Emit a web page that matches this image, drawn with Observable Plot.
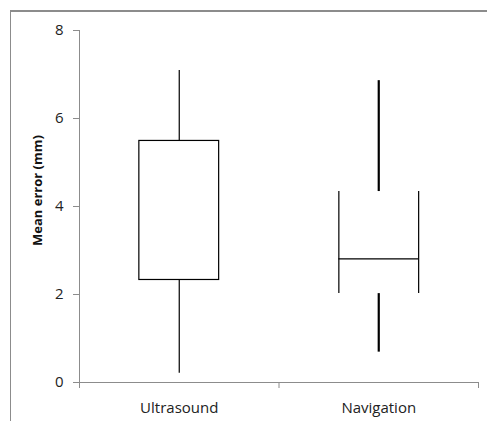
<!DOCTYPE html>
<html>
<head>
<meta charset="utf-8">
<script src="https://cdn.jsdelivr.net/npm/d3@7"></script>
<script src="https://cdn.jsdelivr.net/npm/@observablehq/plot@0.6"></script>
<style>
  html, body { margin: 0; padding: 0; background: #fff; }
  #wrap { position: relative; width: 487px; height: 421px; overflow: hidden; }
  #frame { position: absolute; left: 10px; top: 10px; width: 600px; height: 600px;
           border-top: 2px solid #8c8c8c; border-left: 1px solid #8c8c8c; }
  svg { position: absolute; left: 0; top: 0; }
</style>
</head>
<body>
<div id="wrap"><div id="frame"></div></div>
<script>
const categories = ["Ultrasound", "Navigation"];
const whiskerLow  = [0.21, 0.69];
const q1          = [2.33, 2.02];
const median      = [2.33, 2.81];
const q3          = [5.49, 4.34];
const whiskerHigh = [7.09, 6.86];
const yTicks = [0, 2, 4, 6, 8];
const yLabel = "Mean error (mm)";

const data = categories.map((c, i) => ({
  cat: c, pos: i + 0.5,
  lo: whiskerLow[i], q1: q1[i], med: median[i], q3: q3[i], hi: whiskerHigh[i]
}));
const us = data.filter(d => d.cat === "Ultrasound");
const nav = data.filter(d => d.cat === "Navigation");
const half = 0.2;
const font = "'Open Sans', sans-serif";

const chart = Plot.plot({
  width: 487, height: 421,
  marginLeft: 79, marginRight: 9, marginTop: 30, marginBottom: 39,
  style: { fontFamily: font, background: "transparent", overflow: "visible" },
  x: { domain: [0, categories.length], axis: null },
  y: { domain: [0, 8], axis: null },
  marks: [
    Plot.frame({ anchor: "left", stroke: "#8c8c8c" }),
    Plot.frame({ anchor: "bottom", stroke: "#8c8c8c" }),
    Plot.axisY({ ticks: yTicks, tickSize: 6, tickPadding: 10, stroke: "#8c8c8c",
                 fontSize: 15, fill: "#222", label: null }),
    Plot.axisX({ ticks: d3.range(categories.length + 1), tickSize: 6, tickFormat: () => "",
                 stroke: "#8c8c8c", label: null }),
    // Ultrasound
    Plot.ruleX(us, { x: "pos", y1: "lo", y2: "q1", stroke: "#000", strokeWidth: 1.2 }),
    Plot.ruleX(us, { x: "pos", y1: "q3", y2: "hi", stroke: "#000", strokeWidth: 1.2 }),
    Plot.rect(us, { x1: d => d.pos - half, x2: d => d.pos + half, y1: "q1", y2: "q3",
                    fill: "#fff", stroke: "#000", strokeWidth: 1.2 }),
    // Navigation
    Plot.ruleX(nav, { x: d => d.pos - half, y1: "q1", y2: "q3", stroke: "#000", strokeWidth: 1.2 }),
    Plot.ruleX(nav, { x: d => d.pos + half, y1: "q1", y2: "q3", stroke: "#000", strokeWidth: 1.2 }),
    Plot.ruleY(nav, { y: "med", x1: d => d.pos - half, x2: d => d.pos + half, stroke: "#000", strokeWidth: 1.2 }),
    Plot.ruleX(nav, { x: "pos", y1: "q3", y2: "hi", stroke: "#000", strokeWidth: 2.2 }),
    Plot.ruleX(nav, { x: "pos", y1: "lo", y2: "q1", stroke: "#000", strokeWidth: 2.2 }),
    // labels
    Plot.text(data, { x: "pos", text: "cat", frameAnchor: "bottom", dy: 26,
                      fontSize: 15, fill: "#222", lineAnchor: "middle" }),
    Plot.text([yLabel], { text: d => d, frameAnchor: "left", textAnchor: "middle",
                      lineAnchor: "middle", rotate: -90, dx: -42, dy: -16,
                      fontSize: 13, fontWeight: "bold", fill: "#111" })
  ]
});
document.getElementById("wrap").appendChild(chart);
</script>
</body>
</html>
